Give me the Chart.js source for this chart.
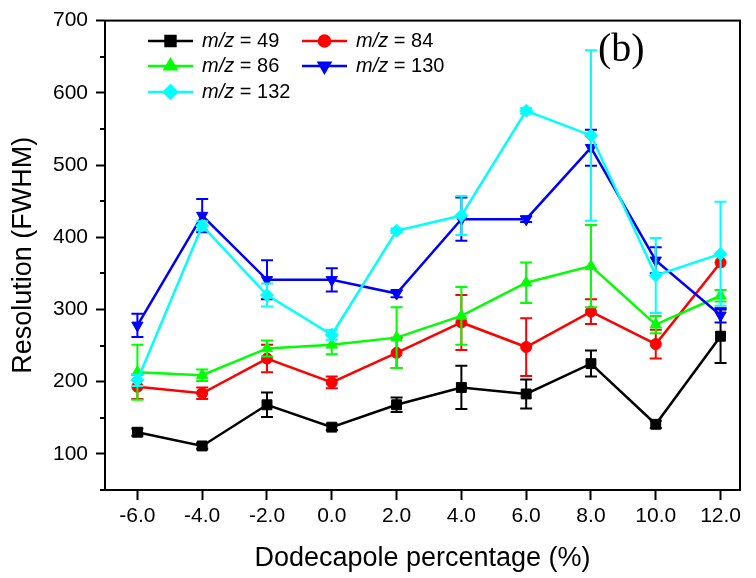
<!DOCTYPE html>
<html>
<head>
<meta charset="utf-8">
<script src="https://cdn.jsdelivr.net/npm/chart.js@4/dist/chart.umd.min.js"></script>
<style>
  html, body { margin: 0; padding: 0; background: #fff; }
  #chart { display: block; }
</style>
</head>
<body>
<canvas id="chart" width="756" height="578"></canvas>
<script>
// dodecapole percentage (%)
const xValues = [-6, -4, -2, 0, 2, 4, 6, 8, 10, 12];
const xTicks = [-6, -4, -2, 0, 2, 4, 6, 8, 10, 12];
const yTicks = [50, 100, 150, 200, 250, 300, 350, 400, 450, 500, 550, 600, 650, 700];

// resolution (FWHM) and error bars per m/z
const mz49 = [130, 111, 168, 137, 168, 192, 183, 225, 141, 263];
const mz49Err = [5, 4, 17, 4, 10, 30, 20, 18, 5, 37];
const mz84 = [193, 184, 232, 199, 240, 282, 248, 297, 252, 365];
const mz84Err = [17, 8, 19, 8, 21, 38, 40, 17, 20, 0];
const mz86 = [213, 209, 246, 251, 261, 291, 337, 360, 279, 319];
const mz86Err = [38, 8, 11, 13, 42, 40, 28, 57, 12, 8];
const mz130 = [278, 430, 341, 341, 322, 425, 425, 524, 368, 292];
const mz130Err = [16, 23, 27, 16, 5, 30, 4, 25, 18, 10];
const mz132 = [202, 416, 320, 265, 409, 430, 575, 541, 347, 377];
const mz132Err = [8, 6, 16, 7, 3, 27, 4, 118, 52, 72];

const seriesLabels = ['49', '84', '86', '130', '132'];
const seriesColors = ['#000000', '#ff0000', '#00ff00', '#0000ff', '#00ffff'];
const seriesMarkers = ['rect', 'circle', 'triangle', 'triangle', 'rectRot'];
const seriesRotation = [0, 0, 0, 180, 0];
const markerSizes = [7, 5.5, 6.5, 6.5, 6.5];

const FONT = "'Liberation Sans', Arial, sans-serif";

function toPoints(vals) {
  return xValues.map((x, i) => ({ x: x, y: vals[i] }));
}

const allValues = [mz49, mz84, mz86, mz130, mz132];
const allErrors = [mz49Err, mz84Err, mz86Err, mz130Err, mz132Err];

const datasets = allValues.map((vals, i) => ({
  label: 'm/z = ' + seriesLabels[i],
  data: toPoints(vals),
  errors: allErrors[i],
  borderColor: seriesColors[i],
  backgroundColor: seriesColors[i],
  borderWidth: 2.5,
  pointStyle: seriesMarkers[i],
  rotation: seriesRotation[i],
  pointRadius: markerSizes[i],
  pointBorderWidth: 1,
  tension: 0,
  order: 5 - i,
}));

// vertical error bars with caps, drawn through the y scale
const errorBars = {
  id: 'errorBars',
  afterDatasetDraw(chart, args) {
    const ds = chart.data.datasets[args.index];
    if (!ds.errors) return;
    const ctx = chart.ctx;
    const yScale = chart.scales.y;
    ctx.save();
    ctx.strokeStyle = ds.borderColor;
    ctx.lineWidth = 2;
    args.meta.data.forEach((pt, i) => {
      const e = ds.errors[i];
      if (!e) return;
      const v = ds.data[i].y;
      const top = yScale.getPixelForValue(v + e);
      const bot = yScale.getPixelForValue(v - e);
      ctx.beginPath();
      ctx.moveTo(pt.x, top);
      ctx.lineTo(pt.x, bot);
      ctx.moveTo(pt.x - 6, top);
      ctx.lineTo(pt.x + 6, top);
      ctx.moveTo(pt.x - 6, bot);
      ctx.lineTo(pt.x + 6, bot);
      ctx.stroke();
    });
    ctx.restore();
  },
};

// frame, minor ticks, legend and panel label
const decorations = {
  id: 'decorations',
  afterDraw(chart) {
    const ctx = chart.ctx;
    const a = chart.chartArea;
    const yScale = chart.scales.y;
    ctx.save();
    ctx.strokeStyle = '#000';
    ctx.lineWidth = 2;
    ctx.strokeRect(a.left, a.top, a.right - a.left, a.bottom - a.top);

    ctx.beginPath();
    yTicks.filter((v) => v % 100 !== 0).forEach((v) => {
      const py = Math.round(yScale.getPixelForValue(v));
      ctx.moveTo(a.left - 5, py);
      ctx.lineTo(a.left, py);
    });
    ctx.stroke();

    // legend, two columns
    const cols = [148, 302];
    const rows = [41, 66, 92];
    ctx.textBaseline = 'middle';
    chart.data.datasets.forEach((ds, i) => {
      const x0 = cols[i % 2];
      const y0 = rows[Math.floor(i / 2)];
      ctx.strokeStyle = ds.borderColor;
      ctx.lineWidth = 2.5;
      ctx.beginPath();
      ctx.moveTo(x0, y0);
      ctx.lineTo(x0 + 45, y0);
      ctx.stroke();
      ctx.fillStyle = ds.backgroundColor;
      Chart.helpers.drawPoint(ctx, {
        pointStyle: ds.pointStyle,
        rotation: ds.rotation,
        radius: ds.pointRadius,
        borderWidth: 1,
      }, x0 + 22.5, y0);
      ctx.fillStyle = '#000';
      ctx.font = 'italic 20px ' + FONT;
      const tx = x0 + 54;
      ctx.fillText('m/z', tx, y0);
      const w = ctx.measureText('m/z').width;
      ctx.font = '20px ' + FONT;
      ctx.fillText(' = ' + seriesLabels[i], tx + w, y0);
    });

    ctx.fillStyle = '#000';
    ctx.font = "40px 'Liberation Serif', 'Times New Roman', serif";
    ctx.textBaseline = 'middle';
    ctx.fillText('(b)', 598, 50);
    ctx.restore();
  },
};

new Chart(document.getElementById('chart').getContext('2d'), {
  type: 'line',
  data: { datasets: datasets },
  options: {
    responsive: false,
    animation: false,
    layout: { padding: { top: 19, right: 16, left: 0, bottom: 0 } },
    plugins: {
      legend: { display: false },
      tooltip: { enabled: false },
    },
    scales: {
      x: {
        type: 'linear',
        min: -7,
        max: 12.6,
        afterBuildTicks: (scale) => { scale.ticks = xTicks.map((v) => ({ value: v })); },
        afterFit: (scale) => { scale.height = 88; },
        ticks: {
          color: '#000',
          font: { family: FONT, size: 21 },
          padding: 4,
          maxRotation: 0,
          callback: (v) => Number(v).toFixed(1),
        },
        grid: { drawOnChartArea: false, color: '#000', tickLength: 10, tickWidth: 2 },
        border: { color: '#000', width: 2 },
        title: {
          display: true,
          text: 'Dodecapole percentage (%)',
          color: '#000',
          font: { family: FONT, size: 27 },
          padding: { top: 0, bottom: 3 },
        },
      },
      y: {
        min: 50,
        max: 700,
        afterBuildTicks: (scale) => { scale.ticks = yTicks.map((v) => ({ value: v })); },
        afterFit: (scale) => { scale.width = 105; },
        ticks: {
          color: '#000',
          font: { family: FONT, size: 21 },
          padding: 8,
          callback: (v) => (v % 100 === 0 ? String(v) : ''),
        },
        grid: {
          drawOnChartArea: false,
          tickColor: (c) => (c.tick && c.tick.value % 100 === 0 ? '#000' : 'rgba(0,0,0,0)'),
          tickLength: 9,
          tickWidth: 2,
        },
        border: { color: '#000', width: 2 },
        title: {
          display: true,
          text: 'Resolution (FWHM)',
          color: '#000',
          font: { family: FONT, size: 27 },
          padding: { top: 7, bottom: 0 },
        },
      },
    },
  },
  plugins: [errorBars, decorations],
});
</script>
</body>
</html>
